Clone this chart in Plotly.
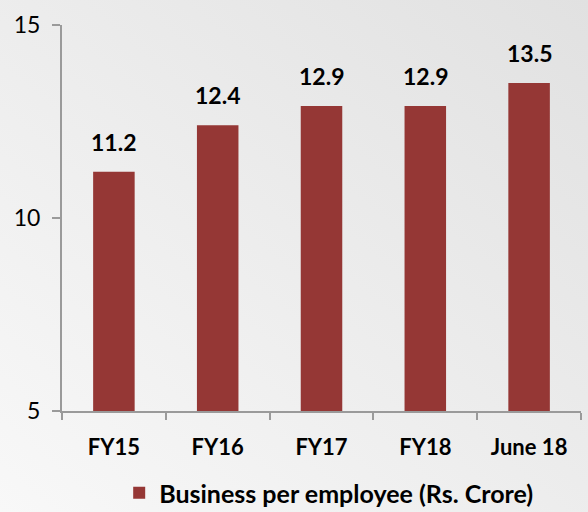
import base64
import plotly.graph_objects as go

categories = ["FY15", "FY16", "FY17", "FY18", "June 18"]
values = [11.2, 12.4, 12.9, 12.9, 13.5]
series_name = "Business per employee (Rs. Crore)"
y_ticks = [5, 10, 15]

bar_color = "#953735"
axis_color = "#9a9a9a"
font_family = "Lato, 'Open Sans', sans-serif"

W, H = 588, 512
M = dict(l=62, r=7, t=25, b=101)
plot_w = W - M["l"] - M["r"]
plot_h = H - M["t"] - M["b"]

# soft diagonal background gradient (light bottom-left to grey top-right)
svg = (
    f'<svg xmlns="http://www.w3.org/2000/svg" width="{W}" height="{H}">'
    '<defs><linearGradient id="g" x1="0" y1="1" x2="1" y2="0">'
    '<stop offset="0" stop-color="#f8f8f8"/>'
    '<stop offset="1" stop-color="#e1e1e1"/>'
    '</linearGradient></defs>'
    f'<rect width="{W}" height="{H}" fill="url(#g)"/></svg>'
)
bg_src = "data:image/svg+xml;base64," + base64.b64encode(svg.encode()).decode()

fig = go.Figure()
fig.add_trace(go.Bar(
    x=categories,
    y=values,
    name=series_name,
    marker=dict(color=bar_color, line=dict(width=0)),
    width=0.4,
    showlegend=True,
))

# value labels above each bar
for cat, val in zip(categories, values):
    fig.add_annotation(
        x=cat, y=val, text=f"<b>{val:.1f}</b>",
        showarrow=False, yanchor="bottom", yshift=14,
        font=dict(family=font_family, size=23, color="#000000"),
    )

fig.add_layout_image(
    source=bg_src,
    xref="paper", yref="paper",
    x=-M["l"] / plot_w, y=1 + M["t"] / plot_h,
    sizex=W / plot_w, sizey=H / plot_h,
    xanchor="left", yanchor="top",
    sizing="stretch", layer="below",
)

fig.update_layout(
    width=W,
    height=H,
    margin=M,
    paper_bgcolor="#eeeeee",
    plot_bgcolor="rgba(0,0,0,0)",
    font=dict(family=font_family, color="#000000"),
    showlegend=True,
    legend=dict(
        orientation="h",
        xref="container",
        yref="container",
        x=0.559,
        xanchor="center",
        y=0.037,
        yanchor="middle",
        font=dict(family=font_family, size=25, color="#000000", weight="bold"),
        itemwidth=30,
        bgcolor="rgba(0,0,0,0)",
    ),
)

fig.update_xaxes(
    type="category",
    showline=True,
    linecolor=axis_color,
    linewidth=2,
    ticks="outside",
    tickson="boundaries",
    ticklen=7,
    tickwidth=2,
    tickcolor=axis_color,
    tickfont=dict(family=font_family, size=22, color="#000000", weight="bold"),
    ticklabelstandoff=16,
    showgrid=False,
    zeroline=False,
)

fig.update_yaxes(
    range=[5, 15],
    tickvals=y_ticks,
    ticktext=[str(t) for t in y_ticks],
    showline=True,
    linecolor=axis_color,
    linewidth=2,
    ticks="outside",
    ticklen=8,
    tickwidth=2,
    tickcolor=axis_color,
    tickfont=dict(family=font_family, size=23, color="#000000"),
    ticklabelstandoff=7,
    showgrid=False,
    zeroline=False,
)

fig.write_html("out.html")
